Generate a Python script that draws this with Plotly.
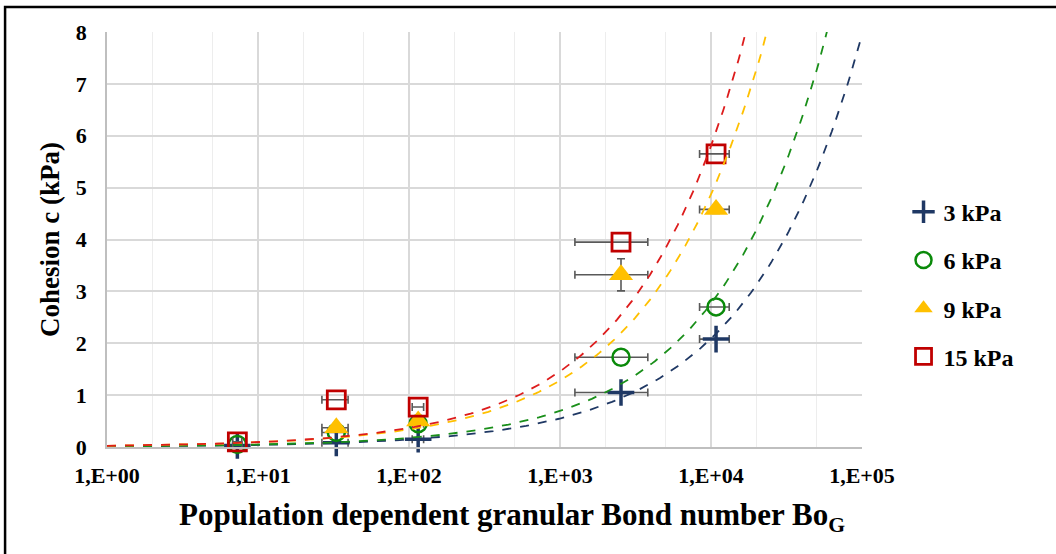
import numpy as np
import plotly.graph_objects as go

# measured points (Bo_G, cohesion in kPa)
bo_g = [7.3, 33, 115, 2535, 10800]
bo_err = [0.5, 6.5, 10, 1280, 2400]

c_3kpa = [0.03, 0.08, 0.15, 1.05, 2.08]
c_6kpa = [0.05, 0.28, 0.45, 1.73, 2.70]
c_9kpa = [-0.02, 0.37, 0.50, 3.32, 4.58]
c_15kpa = [0.10, 0.91, 0.77, 3.95, 5.65]
c_9kpa_err = [None, None, None, 0.31, 0.08]

# dashed trend curves c = a * Bo^b, coefficients
trend_a = [0.0100, 0.0110, 0.0233, 0.0231]
trend_b = [0.58, 0.60, 0.58, 0.60]

names = ["3 kPa", "6 kPa", "9 kPa", "15 kPa"]
font = "Liberation Serif, Times New Roman, serif"

fig = go.Figure()

marker_styles = [
    dict(symbol="cross-thin", size=19, color="#1f3864", line=dict(color="#1f3864", width=3.5)),
    dict(symbol="circle-open", size=17, color="#0a8a0a", line=dict(color="#0a8a0a", width=2.5)),
    dict(symbol="triangle-up", size=21, color="#ffc000", line=dict(width=0)),
    dict(symbol="square-open", size=18, color="#c00000", line=dict(color="#c00000", width=2.8)),
]
line_colors = ["#1f3864", "#1a8f1a", "#ffc000", "#dd1c1c"]
series = [c_3kpa, c_6kpa, c_9kpa, c_15kpa]

for i, (nm, ys) in enumerate(zip(names, series)):
    ey = None
    if nm == "9 kPa":
        ey = dict(type="data", array=c_9kpa_err, color="#595959", thickness=1.6, width=4)
    fig.add_trace(go.Scatter(
        x=bo_g, y=ys, mode="markers", name=nm, legendgroup=nm,
        marker=marker_styles[i], cliponaxis=False,
        error_x=dict(type="data", array=bo_err, color="#595959", thickness=1.6, width=4),
        error_y=ey,
    ))

xs = np.logspace(0, 5, 300)
for i in range(4):
    fig.add_trace(go.Scatter(
        x=xs, y=trend_a[i] * xs ** trend_b[i], mode="lines", showlegend=False,
        line=dict(color=line_colors[i], width=1.8, dash="dash"), hoverinfo="skip",
    ))

tick_vals = [1, 10, 100, 1000, 10000, 100000]
tick_text = ["1,E+00", "1,E+01", "1,E+02", "1,E+03", "1,E+04", "1,E+05"]

fig.update_xaxes(
    type="log", range=[0, 5], tickvals=tick_vals, ticktext=tick_text,
    showgrid=True, gridcolor="#d9d9d9", gridwidth=1.5,
    minor=dict(showgrid=True, gridcolor="#ededed", gridwidth=1),
    showline=True, linecolor="#bfbfbf", linewidth=1.5, zeroline=False,
    tickfont=dict(family=font, size=22, color="black", weight="bold"),
    ticks="", ticklabelstandoff=8, automargin=False,
)
fig.update_yaxes(
    range=[0, 8], dtick=1, showgrid=True, gridcolor="#d9d9d9", gridwidth=1.5,
    showline=True, linecolor="#bfbfbf", linewidth=1.5, zeroline=False,
    tickfont=dict(family=font, size=22, color="black", weight="bold"),
    title=dict(text="<b>Cohesion c (kPa)</b>", font=dict(family=font, size=27, color="black"), standoff=8),
    ticks="", ticklabelstandoff=14, automargin=False,
)

fig.update_layout(
    width=1056, height=554,
    margin=dict(l=107, r=194, t=32, b=107, autoexpand=False),
    plot_bgcolor="white", paper_bgcolor="white",
    font=dict(family=font, color="black"),
    legend=dict(x=1.055, y=0.62, xanchor="left", yanchor="top",
                font=dict(family=font, size=24, color="black", weight="bold"),
                tracegroupgap=14, itemwidth=30, bgcolor="rgba(0,0,0,0)"),
    annotations=[dict(text="<b>Population dependent granular Bond number Bo<sub>G</sub></b>",
                      xref="paper", yref="paper", x=0.536, y=-0.169, xanchor="center", yanchor="middle",
                      showarrow=False, font=dict(family=font, size=31, color="black"))],
    shapes=[dict(type="rect", xref="paper", yref="paper", x0=-0.135, x1=1.4, y0=-0.4, y1=1.06,
                 line=dict(color="black", width=2.5))],
)

# drop the default 8px page margin so the figure fills the window
fig.write_html("out.html", config={"displayModeBar": False},
               post_script="document.body.style.margin='0';")
